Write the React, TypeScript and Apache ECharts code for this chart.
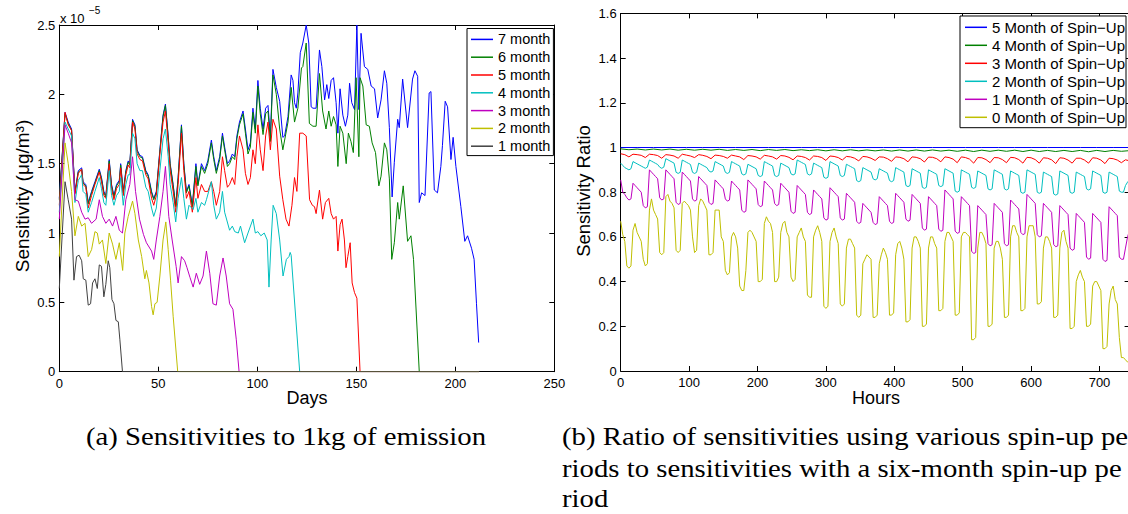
import React, { useEffect, useRef } from 'react';
import * as echarts from 'echarts';

// ---------- Left panel: sensitivities (units of 1e-5 ug/m3) vs day ----------
const leftNames = ['7 month', '6 month', '5 month', '4 month', '3 month', '2 month', '1 month'];
const leftColors = ['#0000ff', '#008000', '#ff0000', '#00bfbf', '#bf00bf', '#bfbf00', '#404040'];

const sens7: number[][] = [
  [0,1.25],[2.9,1.87],[4.5,1.8],[6.2,1.75],[7.9,1.3],[9.6,1.45],[11.3,1.47],[12,1.37],[13.4,1.35],[14.6,1.22],[16.3,1.3],[18,1.37],[20.2,1.46],[21.3,1.4],[22.5,1.3],[23.5,1.27],[25.2,1.53],[26.4,1.35],[27.6,1.27],[28.9,1.35],[30.3,1.38],[31,1.5],[32.3,1.3],[33.6,1.45],[34.8,1.52],[35.6,1.5],[37,1.82],[38.2,1.78],[39.3,1.6],[40.7,1.56],[42,1.55],[43.7,1.45],[44.9,1.42],[46.6,1.3],[47.7,1.25],[49,1.3],[50.8,1.6],[52.4,1.85],[53.6,1.93],[55,1.7],[56,1.5],[57.5,1.35],[58.8,1.2],[60,1.4],[61.7,1.78],[62.9,1.5],[64.2,1.3],[65.5,1.35],[67.2,1.2],[69,1.5],[70,1.35],[71.8,1.5],[73.4,1.45],[75,1.52],[76.8,1.67],[78,1.55],[79.3,1.45],[81,1.55],[82.4,1.72],[83.5,1.62],[84.9,1.5],[86,1.52],[87.4,1.57],[88.6,1.55],[89.7,1.7],[91,1.8],[92.8,1.88],[94,1.75],[95.3,1.6],[96.5,1.65],[97.8,1.9],[99,1.75],[100.3,2.1],[101.5,1.9],[102.9,1.75],[104.2,1.9],[105.4,1.92],[106.6,1.7],[107.9,2.18],[109.6,2.05],[111.3,1.95],[112.9,1.69],[113.8,1.7],[115.5,1.84],[117.1,2.14],[118,2.1],[118.8,1.94],[119.7,1.9],[120.5,2.01],[121.7,2.3],[123,2.37],[124.7,2.5],[126,2.37],[127.2,1.91],[128.1,1.9],[129.7,1.9],[131.4,2.32],[132.6,2.2],[134,1.96],[135.1,2.07],[136.1,1.97],[137.3,2.1],[138.5,2.12],[139.8,1.94],[140.7,1.72],[141.8,2.04],[143.2,1.85],[144.5,1.77],[145.7,1.85],[146.6,2.08],[147.7,1.94],[149.1,1.89],[150.3,2.5],[151.3,1.89],[152.4,2.44],[154.1,2.2],[155.8,2.18],[157.5,2.06],[159.2,2.04],[160.8,1.83],[162.5,1.96],[164.2,2.17],[165.4,2.08],[166.7,1.76],[168.1,1.26],[169.2,1.51],[170.9,1.82],[171.7,1.76],[173.4,2.11],[175.9,1.76],[178.4,2.11],[179.6,2.17],[181,2.13],[181.8,1.22],[183,1.29],[184.7,1.27],[186.8,2.01],[187.7,2.02],[189.4,1.31],[191,1.29],[192.7,1.48],[193.5,1.63],[194.9,1.95],[196.1,1.91],[197.8,1.53],[198.9,1.69],[200.3,1.48],[202.8,1.19],[204.8,0.94],[206.2,0.98],[208.2,0.89],[209.5,0.81],[210.7,0.49],[211.8,0.21]
];
const sens6: number[][] = [
  [0,1.24],[2.9,1.86],[4.5,1.79],[6.2,1.74],[7.9,1.29],[9.6,1.44],[11.3,1.46],[12,1.36],[13.4,1.34],[14.6,1.21],[16.3,1.29],[18,1.36],[20.2,1.45],[21.3,1.39],[22.5,1.29],[23.5,1.26],[25.2,1.52],[26.4,1.34],[27.6,1.26],[28.9,1.34],[30.3,1.37],[31,1.49],[32.3,1.29],[33.6,1.44],[34.8,1.51],[35.6,1.49],[37,1.81],[38.2,1.77],[39.3,1.59],[40.7,1.55],[42,1.54],[43.7,1.44],[44.9,1.41],[46.6,1.29],[47.7,1.24],[49,1.29],[50.8,1.59],[52.4,1.84],[53.6,1.92],[55,1.69],[56,1.49],[57.5,1.34],[58.8,1.19],[60,1.39],[61.7,1.77],[62.9,1.49],[64.2,1.29],[65.5,1.34],[67.2,1.19],[69,1.48],[70,1.34],[71.8,1.48],[73.4,1.43],[75,1.5],[76.8,1.65],[78,1.53],[79.3,1.43],[81,1.53],[82.4,1.7],[83.5,1.6],[84.9,1.48],[86,1.5],[87.4,1.55],[88.6,1.53],[89.7,1.68],[91,1.78],[92.8,1.86],[94,1.72],[95.3,1.57],[96.5,1.62],[97.8,1.87],[99,1.72],[100.3,2.06],[101.5,1.86],[102.9,1.71],[104.2,1.86],[105.4,1.88],[106.6,1.66],[107.9,2.14],[109.6,2.0],[111.3,1.75],[112.9,1.6],[115.5,1.8],[117.1,2.05],[118.8,1.8],[120.5,1.9],[122.3,2.19],[123,2.2],[124.7,2.37],[126.3,1.79],[128.1,1.77],[129.7,1.77],[131.4,2.15],[133,1.88],[134.7,1.75],[136.1,1.88],[137.3,1.77],[138.5,1.84],[139.8,1.78],[140.7,1.48],[141.8,1.77],[143.2,1.72],[144.9,1.5],[146,1.72],[147.3,1.66],[148.5,1.58],[149.9,2.12],[151.3,1.55],[151.9,2.12],[153.3,2.06],[155,1.78],[156.6,1.77],[158,1.65],[159.7,1.58],[161.4,1.34],[162.5,1.41],[164.2,1.65],[165.4,1.6],[166.7,1.39],[167.9,0.81],[169.2,0.93],[170.9,1.22],[171.7,1.1],[173.7,1.34],[175.9,0.94],[177.6,0.98],[178.9,0.81],[181.8,0],[212,0]
];
const sens5: number[][] = [
  [0,1.2],[2.9,1.87],[4.5,1.78],[6.2,1.74],[7.9,1.28],[9.6,1.43],[11.3,1.46],[12,1.35],[13.4,1.33],[14.6,1.18],[16.3,1.27],[18,1.35],[20.2,1.44],[21.3,1.37],[22.5,1.27],[23.5,1.25],[25.2,1.5],[26.4,1.32],[27.6,1.24],[28.9,1.32],[30.3,1.35],[31,1.47],[32.3,1.27],[33.6,1.42],[34.8,1.49],[35.6,1.47],[37,1.8],[38.2,1.75],[39.3,1.57],[40.7,1.53],[42,1.52],[43.7,1.42],[44.9,1.39],[46.6,1.25],[47.7,1.2],[49,1.27],[50.8,1.57],[52.4,1.8],[53.6,1.88],[55,1.65],[56,1.45],[57.5,1.3],[58.8,1.15],[60,1.35],[61.7,1.72],[62.9,1.45],[64.2,1.25],[65.5,1.3],[67.2,1.15],[69,1.4],[70,1.25],[71.8,1.35],[73.4,1.3],[75,1.3],[76.8,1.37],[78,1.3],[79.3,1.2],[81,1.3],[82.4,1.55],[83.5,1.45],[84.9,1.33],[86,1.35],[87.4,1.4],[88.6,1.35],[89.7,1.55],[91,1.7],[92.8,1.6],[94,1.43],[95.3,1.35],[96.5,1.4],[97.8,1.6],[99,1.5],[100.3,1.78],[101.5,1.6],[102.9,1.45],[104.2,1.7],[105.4,1.8],[106.6,1.6],[107.9,1.82],[109.6,1.75],[111.3,1.41],[112.9,1.24],[114.5,1.1],[116,1.05],[117.5,1.2],[118.8,1.4],[120,1.3],[121.4,1.72],[123,1.72],[124.7,1.7],[126.4,1.24],[127.8,1.2],[128.9,1.19],[129.7,1.14],[131.4,1.31],[133,1.1],[134.4,1.22],[136.1,1.25],[137.3,1.14],[138.5,1.1],[139.8,1.12],[140.7,0.87],[141.8,1.06],[142.8,1.1],[144,0.95],[144.8,0.75],[145.7,0.83],[146.9,0.93],[147.9,0.64],[149.1,0.57],[150.3,0.53],[151.9,0],[212,0]
];
const sens4: number[][] = [
  [0,1.15],[2.9,1.8],[4.5,1.75],[6.2,1.7],[7.9,1.22],[9.6,1.38],[11.3,1.42],[12,1.3],[13.4,1.28],[14.6,1.15],[16.3,1.22],[18,1.3],[20.2,1.4],[21.3,1.32],[22.5,1.22],[23.5,1.2],[25.2,1.45],[26.4,1.27],[27.6,1.2],[28.9,1.27],[30.3,1.3],[31,1.4],[32.3,1.2],[33.6,1.35],[34.8,1.42],[35.6,1.42],[37,1.72],[38.2,1.68],[39.3,1.5],[40.7,1.45],[42,1.45],[43.7,1.33],[44.9,1.3],[46.6,1.18],[47.7,1.12],[49,1.18],[50.8,1.45],[52.4,1.68],[53.6,1.75],[55,1.55],[56,1.35],[57.5,1.22],[58.8,1.08],[60,1.25],[61.7,1.4],[62.9,1.25],[64.2,1.1],[65.5,1.2],[67.6,1.17],[69,1.25],[70,1.15],[71.8,1.22],[73.4,1.2],[74.3,1.24],[76.8,1.37],[78,1.2],[79.3,1.1],[81,1.15],[82.4,1.3],[83.5,1.15],[86,1.02],[87.4,1.05],[88.6,1.01],[90.4,1.0],[91.5,1.05],[93.6,0.93],[95.3,1.0],[97.8,1.1],[99,1.0],[100.3,1.01],[101.8,0.98],[103.5,1.0],[105,0.95],[105.9,0.61],[107,0.95],[108,1.2],[109.6,1.14],[111.3,0.95],[113,0.69],[114.7,0.81],[116,0.83],[116.6,0.86],[117.1,0.84],[121.4,0],[212,0]
];
const sens3: number[][] = [
  [0,1.1],[2.9,1.78],[4.5,1.72],[6.2,1.65],[7.9,1.24],[9.6,1.23],[11.3,1.15],[13,1.1],[14.6,1.11],[16.3,1.07],[18.6,1.1],[20.2,1.24],[21.8,1.12],[23.5,1.07],[25.2,1.1],[26.9,1.05],[28.6,1.12],[30.3,1.02],[31.9,1.0],[33.6,1.24],[35.6,1.35],[37,1.55],[38.5,1.3],[40.5,1.1],[42.5,0.99],[44,0.93],[46.6,0.87],[47.7,0.81],[49,0.95],[50.8,1.12],[52.4,1.3],[53.6,1.48],[55.3,1.12],[57,0.95],[59,0.76],[60,0.64],[61.7,0.83],[63.3,0.8],[64.5,0.75],[66,0.68],[67.6,0.61],[69.2,0.71],[70.9,0.63],[72.6,0.69],[74.3,0.87],[76,0.71],[77.6,0.49],[79.3,0.48],[81,0.69],[82.7,0.82],[84.3,0.69],[86,0.49],[87.7,0.45],[89.4,0.23],[90.8,0],[212,0]
];
const sens2: number[][] = [
  [0,0.83],[2.9,1.65],[4.5,1.5],[6.2,1.3],[7.9,0.98],[9.6,1.12],[11.3,1.05],[13,1.07],[14.6,0.83],[16.3,0.88],[18,1.01],[19.2,1.0],[20.2,0.92],[21.8,0.95],[23.5,0.78],[25.2,1.0],[26.9,0.92],[28.6,0.81],[30.3,0.93],[32,0.73],[33.1,1.0],[34.8,1.12],[37,1.23],[38.2,1.14],[39.9,0.95],[41.6,0.83],[43.2,0.67],[44,0.73],[45.3,0.64],[46.6,0.47],[47.4,0.41],[48.3,0.49],[49.4,0.5],[50.8,0.69],[52.4,0.95],[53.8,1.08],[55,0.88],[56.2,0.66],[57.5,0.4],[59.8,0],[212,0]
];
const sens1: number[][] = [
  [0,0.6],[2.9,1.37],[4.5,1.24],[6.2,1.1],[7.4,0.66],[8.7,0.83],[10,0.84],[11.3,0.8],[12.1,0.67],[13.4,0.66],[14.6,0.48],[15.8,0.49],[16.8,0.64],[18,0.67],[19.2,0.6],[20.2,0.77],[21.3,0.76],[22.5,0.54],[23.5,0.63],[24.7,0.8],[25.5,0.75],[26.6,0.52],[27.6,0.49],[28.6,0.37],[29.8,0.36],[30.6,0.23],[31.9,0],[212,0]
];
const leftData = [sens7, sens6, sens5, sens4, sens3, sens2, sens1];
const leftYTicks = { min: 0, max: 2.5, interval: 0.5 };
const leftXTicks = { min: 0, max: 250, interval: 50 };

// ---------- Right panel: sensitivity ratio vs hour ----------
const rightNames = ['5 Month of Spin\u2212Up', '4 Month of Spin\u2212Up', '3 Month of Spin\u2212Up', '2 Month of Spin\u2212Up', '1 Month of Spin\u2212Up', '0 Month of Spin\u2212Up'];
const rightColors = ['#0000ff', '#008000', '#ff0000', '#00bfbf', '#bf00bf', '#bfbf00'];

// sampled every 24 h
const ratio5 = [1.0,1.0,1.0,1.0,1.0,1.0,1.0,1.0,1.0,1.0,1.0,1.0,1.0,1.0,1.0,1.0,1.0,1.0,1.0,1.0,1.0,1.0,1.0,1.0,1.0,1.0,1.0,1.0,1.0,1.0,1.0,1.0];
// sampled every 12 h
const ratio4 = [0.994,0.990,0.993,0.989,0.993,0.989,0.993,0.988,0.992,0.988,0.992,0.988,0.992,0.987,0.991,0.987,0.991,0.986,0.991,0.987,0.991,0.986,0.990,0.986,0.990,0.985,0.990,0.985,0.990,0.985,0.989,0.985,0.989,0.984,0.989,0.984,0.989,0.984,0.989,0.984,0.988,0.983,0.988,0.982,0.988,0.983,0.988,0.983,0.988,0.982,0.988,0.982,0.987,0.982,0.987,0.982,0.987,0.981,0.987,0.982,0.987,0.983,0.986];
// sampled every 6 h
const ratio3 = [
  0.972,0.968,0.958,0.970, 0.968,0.965,0.955,0.970, 0.968,0.964,0.952,0.968, 0.966,0.962,0.952,0.970,
  0.966,0.962,0.955,0.968, 0.965,0.960,0.950,0.966, 0.964,0.960,0.952,0.966, 0.962,0.958,0.946,0.964,
  0.962,0.958,0.948,0.965, 0.962,0.958,0.948,0.964, 0.962,0.956,0.945,0.962, 0.960,0.955,0.944,0.962,
  0.960,0.955,0.942,0.962, 0.960,0.955,0.944,0.960, 0.958,0.952,0.940,0.960, 0.958,0.952,0.942,0.958,
  0.957,0.950,0.938,0.958, 0.956,0.950,0.936,0.958, 0.956,0.950,0.935,0.957, 0.956,0.950,0.936,0.958,
  0.955,0.948,0.932,0.958, 0.955,0.948,0.930,0.955, 0.954,0.946,0.932,0.955, 0.954,0.946,0.932,0.956,
  0.954,0.946,0.930,0.956, 0.954,0.946,0.930,0.954, 0.952,0.945,0.928,0.954, 0.952,0.944,0.930,0.952,
  0.952,0.944,0.930,0.954, 0.952,0.944,0.928,0.952, 0.950,0.944,0.932,0.945, 0.940
];
// sampled every 3 h
const ratio2 = [
  0.93,0.92,0.91,0.905,0.90,0.905,0.937,0.932, 0.927,0.922,0.917,0.912,0.907,0.912,0.944,0.939,
  0.934,0.929,0.924,0.912,0.907,0.912,0.95,0.945, 0.94,0.935,0.93,0.889,0.884,0.889,0.944,0.939,
  0.934,0.929,0.924,0.889,0.884,0.889,0.93,0.925, 0.92,0.915,0.91,0.895,0.89,0.895,0.937,0.932,
  0.927,0.922,0.917,0.889,0.884,0.889,0.937,0.932, 0.927,0.922,0.917,0.882,0.877,0.882,0.925,0.92,
  0.915,0.91,0.905,0.875,0.87,0.875,0.937,0.932, 0.927,0.922,0.917,0.875,0.87,0.875,0.93,0.925,
  0.92,0.915,0.91,0.882,0.877,0.882,0.944,0.939, 0.934,0.929,0.924,0.882,0.877,0.882,0.93,0.925,
  0.92,0.915,0.91,0.867,0.862,0.867,0.937,0.932, 0.927,0.922,0.917,0.875,0.87,0.875,0.925,0.92,
  0.915,0.91,0.905,0.852,0.847,0.852,0.91,0.905, 0.90,0.895,0.89,0.86,0.855,0.86,0.905,0.90,
  0.895,0.89,0.885,0.852,0.847,0.852,0.91,0.905, 0.90,0.895,0.89,0.83,0.825,0.83,0.905,0.90,
  0.895,0.89,0.885,0.822,0.817,0.822,0.90,0.895, 0.89,0.885,0.88,0.83,0.825,0.83,0.905,0.90,
  0.895,0.89,0.885,0.805,0.80,0.805,0.90,0.895, 0.89,0.885,0.88,0.822,0.817,0.822,0.895,0.89,
  0.885,0.88,0.875,0.815,0.81,0.815,0.90,0.895, 0.89,0.885,0.88,0.815,0.81,0.815,0.895,0.89,
  0.885,0.88,0.875,0.80,0.795,0.80,0.90,0.895, 0.89,0.885,0.88,0.80,0.795,0.80,0.89,0.885,
  0.88,0.875,0.87,0.792,0.787,0.792,0.895,0.89, 0.885,0.88,0.875,0.80,0.795,0.80,0.89,0.885,
  0.88,0.875,0.87,0.815,0.81,0.815,0.895,0.89, 0.885,0.88,0.875,0.80,0.795,0.80,0.89,0.885,
  0.88,0.875,0.87,0.805,0.80,0.80,0.83,0.845, 0.855
];
const ratio1 = [
  0.855,0.80,0.79,0.775,0.765,0.77,0.84,0.83, 0.82,0.81,0.80,0.74,0.73,0.735,0.90,0.89,
  0.88,0.87,0.86,0.775,0.765,0.77,0.90,0.89, 0.88,0.87,0.86,0.755,0.745,0.75,0.89,0.88,
  0.87,0.86,0.85,0.77,0.76,0.765,0.87,0.86, 0.85,0.84,0.83,0.755,0.745,0.75,0.855,0.845,
  0.835,0.825,0.815,0.77,0.76,0.765,0.85,0.84, 0.83,0.82,0.81,0.72,0.71,0.715,0.855,0.845,
  0.835,0.825,0.815,0.745,0.735,0.74,0.85,0.84, 0.83,0.82,0.81,0.75,0.74,0.745,0.84,0.83,
  0.82,0.81,0.80,0.715,0.705,0.71,0.83,0.82, 0.81,0.80,0.79,0.71,0.70,0.705,0.81,0.80,
  0.79,0.78,0.77,0.685,0.675,0.68,0.82,0.81, 0.80,0.79,0.78,0.685,0.675,0.68,0.795,0.785,
  0.775,0.765,0.755,0.67,0.66,0.665,0.75,0.74, 0.73,0.72,0.71,0.665,0.655,0.66,0.78,0.77,
  0.76,0.75,0.74,0.67,0.66,0.665,0.795,0.785, 0.775,0.765,0.755,0.68,0.67,0.675,0.79,0.78,
  0.77,0.76,0.75,0.64,0.63,0.635,0.78,0.77, 0.76,0.75,0.74,0.635,0.625,0.63,0.81,0.80,
  0.79,0.78,0.77,0.626,0.616,0.62,0.78,0.77, 0.76,0.75,0.74,0.536,0.526,0.53,0.74,0.73,
  0.72,0.71,0.70,0.57,0.56,0.565,0.75,0.74, 0.73,0.72,0.71,0.57,0.56,0.565,0.765,0.755,
  0.745,0.735,0.725,0.62,0.61,0.615,0.79,0.78, 0.77,0.76,0.75,0.61,0.60,0.605,0.75,0.74,
  0.73,0.72,0.71,0.566,0.556,0.56,0.74,0.73, 0.72,0.71,0.70,0.55,0.54,0.545,0.705,0.695,
  0.685,0.675,0.665,0.51,0.50,0.505,0.705,0.695, 0.685,0.675,0.665,0.50,0.49,0.495,0.735,0.725,
  0.715,0.705,0.695,0.51,0.50,0.50,0.55,0.60, 0.63
];
const ratio0 = [
  0.67,0.61,0.58,0.47,0.46,0.47,0.63,0.66, 0.62,0.60,0.58,0.50,0.47,0.48,0.72,0.77,
  0.72,0.70,0.68,0.53,0.52,0.53,0.78,0.79, 0.76,0.75,0.73,0.54,0.53,0.54,0.75,0.76,
  0.75,0.74,0.72,0.60,0.53,0.54,0.74,0.77, 0.76,0.74,0.72,0.52,0.52,0.53,0.72,0.72,
  0.72,0.60,0.58,0.45,0.43,0.44,0.60,0.62, 0.60,0.55,0.38,0.36,0.36,0.45,0.62,0.63,
  0.62,0.60,0.58,0.40,0.40,0.41,0.66,0.69, 0.67,0.66,0.62,0.40,0.40,0.42,0.62,0.66,
  0.67,0.62,0.60,0.42,0.40,0.41,0.60,0.62, 0.64,0.60,0.58,0.34,0.33,0.33,0.60,0.63,
  0.65,0.62,0.58,0.29,0.28,0.29,0.58,0.62, 0.64,0.60,0.57,0.30,0.29,0.30,0.55,0.59,
  0.59,0.57,0.55,0.25,0.24,0.25,0.48,0.50, 0.52,0.51,0.50,0.24,0.24,0.25,0.48,0.52,
  0.55,0.53,0.50,0.25,0.25,0.26,0.52,0.57, 0.58,0.55,0.50,0.22,0.22,0.23,0.55,0.60,
  0.60,0.58,0.55,0.20,0.20,0.21,0.55,0.60, 0.60,0.57,0.55,0.27,0.27,0.28,0.58,0.62,
  0.62,0.60,0.58,0.25,0.25,0.26,0.60,0.62, 0.62,0.61,0.60,0.14,0.14,0.15,0.55,0.62,
  0.62,0.60,0.57,0.20,0.20,0.21,0.55,0.58, 0.58,0.55,0.50,0.24,0.24,0.25,0.60,0.65,
  0.65,0.62,0.60,0.27,0.27,0.28,0.60,0.65, 0.65,0.65,0.60,0.30,0.30,0.31,0.55,0.60,
  0.60,0.58,0.55,0.24,0.24,0.25,0.55,0.62, 0.63,0.58,0.55,0.19,0.19,0.20,0.40,0.43,
  0.45,0.42,0.40,0.20,0.20,0.21,0.38,0.40, 0.40,0.38,0.36,0.10,0.10,0.11,0.30,0.36,
  0.38,0.32,0.30,0.15,0.06,0.06,0.05,0.04, 0.04
];
const rightData = [ratio5, ratio4, ratio3, ratio2, ratio1, ratio0];
const rightSteps = [24, 12, 6, 3, 3, 3];
const rightXTicks = { min: 0, max: 744, interval: 100 };
const rightYTicks = { min: 0, max: 1.6, interval: 0.2 };

const captionA = '(a) Sensitivities to 1kg of emission';
const captionB = ['(b) Ratio of sensitivities using various spin-up pe', 'riods to sensitivities with a six-month spin-up pe', 'riod'];

const SANS = '"Liberation Sans", Arial, Helvetica, sans-serif';
const SERIF = '"Liberation Serif", "Times New Roman", serif';

function frameAxes(gridIndex: number, ticks: { min: number; max: number; interval: number }, isX: boolean, hideMax: boolean) {
  const common = {
    type: 'value' as const,
    gridIndex,
    min: ticks.min,
    max: ticks.max,
    interval: ticks.interval,
    splitLine: { show: false },
    axisLine: { show: true, onZero: false, lineStyle: { color: '#000', width: 1 } },
    axisTick: { show: true, inside: true, length: 5, lineStyle: { color: '#000', width: 1 } },
  };
  const main = {
    ...common,
    position: isX ? 'bottom' : 'left',
    axisLabel: {
      show: true,
      margin: isX ? 5 : 4,
      color: '#000',
      fontSize: 13,
      fontFamily: SANS,
      showMaxLabel: !hideMax,
      formatter: (v: number) => (Math.abs(v / ticks.interval - Math.round(v / ticks.interval)) < 1e-6 ? String(+v.toFixed(4)) : ''),
    },
  };
  const mirror = { ...common, position: isX ? 'top' : 'right', axisLabel: { show: false } };
  return [main, mirror];
}

function txt(text: string, x: number, y: number, font: string, align: string, extra: any = {}) {
  return {
    type: 'text', x, y, ...extra,
    style: { text, font, fill: '#000', align, verticalAlign: 'middle', textAlign: align, textVerticalAlign: 'middle' },
  };
}

export default function App() {
  const ref = useRef<HTMLDivElement>(null);
  useEffect(() => {
    if (!ref.current) return;
    const chart = echarts.init(ref.current, undefined, { renderer: 'svg' });

    const leftGrid = { left: 59.3, top: 25, width: 495, height: 346.7 };
    const rightGrid = { left: 620.7, top: 13.4, width: 508.9, height: 357.6 };

    const xAxes = [...frameAxes(0, leftXTicks, true, false), ...frameAxes(1, rightXTicks, true, true)];
    const yAxes = [...frameAxes(0, leftYTicks, false, false), ...frameAxes(1, rightYTicks, false, false)];

    const series: any[] = [];
    leftData.forEach((d, i) => {
      series.push({
        name: leftNames[i], type: 'line', xAxisIndex: 0, yAxisIndex: 0, data: d,
        showSymbol: false, symbol: 'none', clip: true,
        lineStyle: { color: leftColors[i], width: 1 }, itemStyle: { color: leftColors[i] },
        emphasis: { disabled: true }, silent: true,
      });
    });
    rightData.forEach((vals, i) => {
      series.push({
        name: rightNames[i], type: 'line', xAxisIndex: 2, yAxisIndex: 2,
        data: vals.map((v, k) => [k * rightSteps[i], v]),
        showSymbol: false, symbol: 'none', clip: true,
        lineStyle: { color: rightColors[i], width: 1 }, itemStyle: { color: rightColors[i] },
        emphasis: { disabled: true }, silent: true,
      });
    });

    const legendBase = {
      orient: 'vertical' as const,
      itemGap: 0,
      itemWidth: 22,
      itemHeight: 1.5,
      icon: 'rect',
      selectedMode: false,
      borderColor: '#000',
      borderWidth: 1,
      borderRadius: 0,
      backgroundColor: '#fff',
      z: 10,
    };

    const capFont = `25px ${SERIF}`;
    chart.setOption({
      animation: false,
      backgroundColor: '#fff',
      grid: [leftGrid, rightGrid],
      xAxis: xAxes,
      yAxis: yAxes,
      legend: [
        {
          ...legendBase,
          data: leftNames,
          left: 467, top: 28.5,
          padding: [2, 3, 0.5, 4],
          textStyle: { fontSize: 14.5, lineHeight: 17.8, color: '#000', fontFamily: SANS },
        },
        {
          ...legendBase,
          data: rightNames,
          left: 960, top: 16,
          padding: [2.3, 1, 1.4, 5],
          textStyle: { fontSize: 15, lineHeight: 18, color: '#000', fontFamily: SANS },
        },
      ],
      graphic: [
        txt('x 10', 60, 18, `13px ${SANS}`, 'left'),
        txt('\u22125', 89, 10, `10px ${SANS}`, 'left'),
        txt('Sensitivity (\u03bcg/m\u00b3)', 22, 196, `19px ${SANS}`, 'center', { rotation: Math.PI / 2 }),
        txt('Days', 307, 398, `18px ${SANS}`, 'center'),
        txt('Sensitivity Ratio', 583.5, 191, `18.5px ${SANS}`, 'center', { rotation: Math.PI / 2 }),
        txt('Hours', 876, 398, `18px ${SANS}`, 'center'),
        txt(captionA, 86, 437, capFont, 'left', { scaleX: 1.15 }),
        txt(captionB[0], 562, 437, capFont, 'left', { scaleX: 1.15 }),
        txt(captionB[1], 562, 469, capFont, 'left', { scaleX: 1.15 }),
        txt(captionB[2], 562, 499, capFont, 'left', { scaleX: 1.15 }),
      ],
      series,
    });
    return () => chart.dispose();
  }, []);

  return (
    <div style={{ position: 'fixed', left: 0, top: 0, width: 1128, height: 514, overflow: 'hidden', background: '#fff' }}>
      <div ref={ref} style={{ width: 1140, height: 514 }} />
    </div>
  );
}
